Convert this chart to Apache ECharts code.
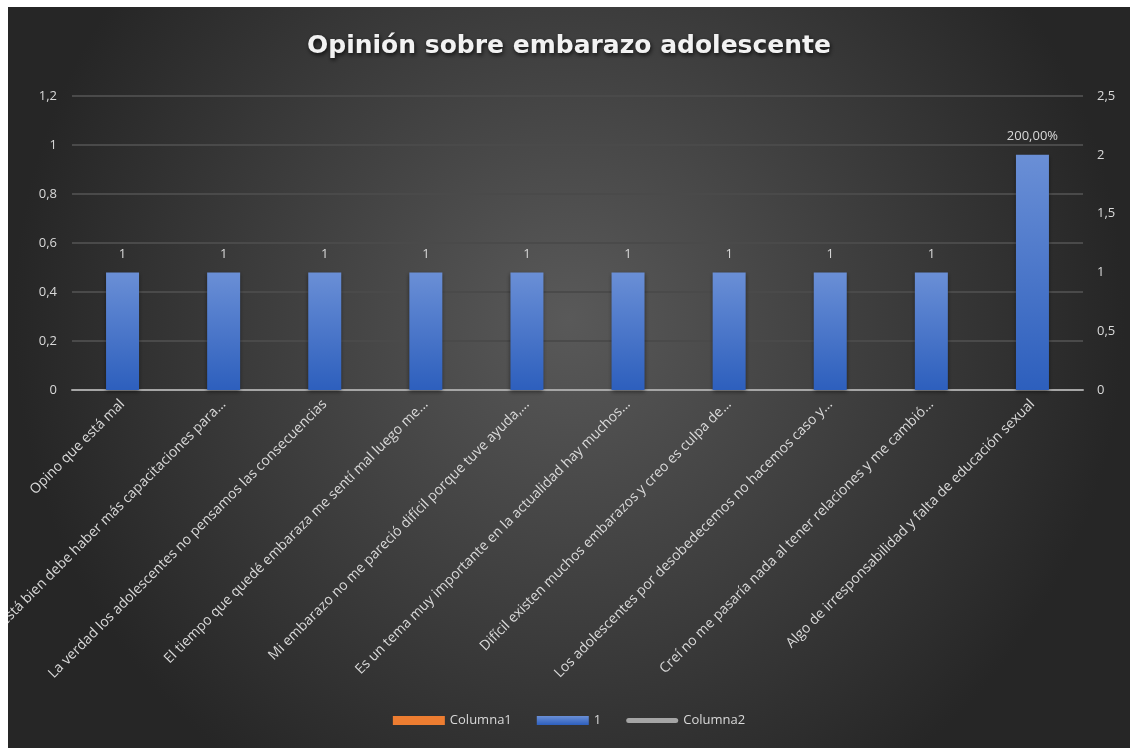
<!DOCTYPE html>
<html>
<head>
<meta charset="utf-8">
<script src="https://cdn.jsdelivr.net/npm/echarts@6/dist/echarts.min.js"></script>
<style>
  html, body { margin: 0; padding: 0; background: #ffffff; }
  #chart { position: absolute; left: 8px; top: 7px; width: 1122px; height: 741px; }
</style>
</head>
<body>
<div id="chart"></div>
<script>
const titleText = 'Opinión sobre embarazo adolescente';
const categories = [
  'Opino que está mal',
  'No está bien debe haber más capacitaciones para...',
  'La verdad los adolescentes no pensamos las consecuencias',
  'El tiempo que quedé embaraza me sentí mal luego me...',
  'Mi embarazo no me pareció difícil porque tuve ayuda,...',
  'Es un tema muy importante en la actualidad hay muchos...',
  'Difícil existen muchos embarazos y creo es culpa de...',
  'Los adolescentes por desobedecemos no hacemos caso y...',
  'Creí no me pasaría nada al tener relaciones y me cambió...',
  'Algo de irresponsabilidad y falta de educación sexual'
];
const columna1Values = [];
const series1Values = [1, 1, 1, 1, 1, 1, 1, 1, 1, 2];
const series1Labels = ['1', '1', '1', '1', '1', '1', '1', '1', '1', '200,00%'];
const columna2Values = [];
const leftTicks = { min: 0, max: 1.2, interval: 0.2 };
const rightTicks = { min: 0, max: 2.5, interval: 0.5 };

const fmt = v => String(Math.round(v * 10) / 10).replace('.', ',');
const FONT = '"Open Sans", Lato, sans-serif';

const chart = echarts.init(document.getElementById('chart'), null, { renderer: 'canvas' });
chart.setOption({
  backgroundColor: {
    type: 'radial', x: 0.5, y: 0.42, r: 0.75,
    colorStops: [
      { offset: 0, color: '#595959' },
      { offset: 1, color: '#262626' }
    ]
  },
  title: {
    text: titleText,
    left: 'center',
    top: 22,
    textStyle: {
      fontFamily: '"DejaVu Sans", sans-serif',
      fontWeight: 'bold',
      fontSize: 25,
      color: '#f2f2f2',
      textShadowColor: 'rgba(0,0,0,0.75)',
      textShadowBlur: 4,
      textShadowOffsetX: 1,
      textShadowOffsetY: 2
    }
  },
  legend: {
    bottom: 16,
    left: 'center',
    itemWidth: 52,
    itemHeight: 9,
    itemGap: 25,
    textStyle: { color: '#d9d9d9', fontSize: 13, fontFamily: FONT },
    data: [
      { name: 'Columna1', icon: 'rect' },
      { name: '1', icon: 'rect' },
      { name: 'Columna2', icon: 'path://M2.5,0 L49.5,0 A2.5,2.5 0 0 1 49.5,5 L2.5,5 A2.5,2.5 0 0 1 2.5,0 Z' }
    ]
  },
  grid: { left: 64, right: 47, top: 89, bottom: 358, containLabel: false, outerBoundsMode: 'none' },
  xAxis: {
    type: 'category',
    data: categories,
    axisLine: { lineStyle: { color: '#a6a6a6', width: 2 } },
    axisTick: { show: false },
    axisLabel: {
      rotate: 45,
      interval: 0,
      margin: 12,
      color: '#d9d9d9',
      fontSize: 14,
      fontFamily: FONT
    }
  },
  yAxis: [
    {
      type: 'value',
      min: leftTicks.min, max: leftTicks.max, interval: leftTicks.interval,
      axisLine: { show: false },
      axisTick: { show: false },
      splitLine: { lineStyle: { color: '#4a4a4a', width: 2 } },
      axisLabel: { color: '#d9d9d9', fontSize: 13, fontFamily: FONT, margin: 15, formatter: fmt }
    },
    {
      type: 'value',
      min: rightTicks.min, max: rightTicks.max, interval: rightTicks.interval,
      axisLine: { show: false },
      axisTick: { show: false },
      splitLine: { show: false },
      axisLabel: { color: '#d9d9d9', fontSize: 13, fontFamily: FONT, margin: 14, formatter: fmt }
    }
  ],
  series: [
    {
      name: 'Columna1',
      type: 'bar',
      yAxisIndex: 0,
      data: columna1Values,
      barWidth: 33,
      itemStyle: { color: '#ed7d31' }
    },
    {
      name: '1',
      type: 'bar',
      yAxisIndex: 1,
      data: series1Values,
      barWidth: 33,
      barGap: '-100%',
      itemStyle: {
        color: {
          type: 'linear', x: 0, y: 0, x2: 0, y2: 1,
          colorStops: [
            { offset: 0, color: '#6a8fd6' },
            { offset: 1, color: '#2d5fbd' }
          ]
        },
        shadowColor: 'rgba(0,0,0,0.45)',
        shadowBlur: 4,
        shadowOffsetY: 2
      },
      label: {
        show: true,
        position: 'top',
        distance: 12,
        color: '#d9d9d9',
        fontSize: 13,
        fontFamily: FONT,
        formatter: p => series1Labels[p.dataIndex]
      }
    },
    {
      name: 'Columna2',
      type: 'line',
      yAxisIndex: 0,
      data: columna2Values,
      lineStyle: { color: '#a5a5a5', width: 5, cap: 'round' },
      itemStyle: { color: '#a5a5a5' },
      symbol: 'none'
    }
  ]
});
</script>
</body>
</html>
